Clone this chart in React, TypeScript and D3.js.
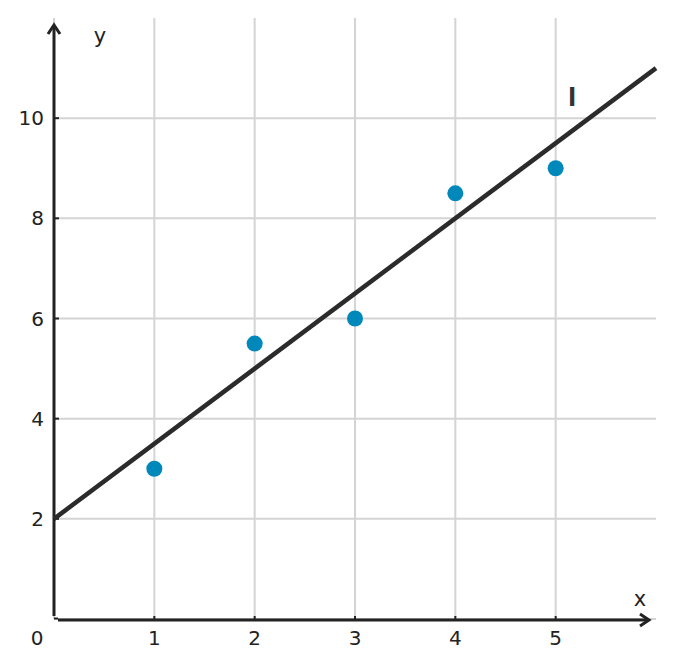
import React from "react";
import * as d3 from "d3";

const pointsX = [1, 2, 3, 4, 5];
const pointsY = [3, 5.5, 6, 8.5, 9];
const lineIntercept = 2;
const lineSlope = 1.5;
const xTicks = [1, 2, 3, 4, 5];
const yTicks = [2, 4, 6, 8, 10];
const xGrid = [0, 1, 2, 3, 4, 5];
const yGrid = [0, 2, 4, 6, 8, 10];
const lineLabel = "l";

const W = 674;
const H = 668;

export default function App() {
  const x = d3.scaleLinear().domain([0, 6]).range([54, 656]);
  const y = d3.scaleLinear().domain([0, 12]).range([619, 18]);
  const font = "'DejaVu Sans', sans-serif";
  const axisColor = "#222";
  const gridColor = "#d4d4d4";
  const textColor = "#222";

  const lineGen = d3
    .line<number>()
    .x((d) => x(d))
    .y((d) => y(lineIntercept + lineSlope * d));

  return (
    <svg
      width={W}
      height={H}
      style={{ position: "absolute", left: 0, top: 0 }}
      viewBox={`0 0 ${W} ${H}`}
    >
      <rect width={W} height={H} fill="#fff" />
      {/* grid */}
      {xGrid.map((v) => (
        <line key={"gx" + v} x1={x(v)} x2={x(v)} y1={y(12)} y2={y(0)} stroke={gridColor} strokeWidth={2} />
      ))}
      {yGrid.map((v) => (
        <line key={"gy" + v} x1={x(0)} x2={x(6)} y1={y(v)} y2={y(v)} stroke={gridColor} strokeWidth={2} />
      ))}
      {/* axes */}
      <line x1={x(0)} x2={x(0)} y1={y(0) - 3} y2={26} stroke={axisColor} strokeWidth={3} />
      <path d={`M${x(0) - 6},${34} L${x(0)},${25} L${x(0) + 6},${34}`} fill="none" stroke={axisColor} strokeWidth={3} />
      <line x1={x(0) + 4} x2={648} y1={y(0) + 1} y2={y(0) + 1} stroke={axisColor} strokeWidth={3} />
      <path d={`M${640},${y(0) + 1 - 6} L${649},${y(0) + 1} L${640},${y(0) + 1 + 6}`} fill="none" stroke={axisColor} strokeWidth={3} />
      {/* origin corner ticks */}
      <line x1={x(0)} x2={x(0) + 4} y1={y(0) - 0.5} y2={y(0) - 0.5} stroke={axisColor} strokeWidth={2} />
      {/* ticks */}
      {xTicks.map((v) => (
        <g key={"xt" + v}>
          <line x1={x(v)} x2={x(v)} y1={y(0)} y2={y(0) - 3} stroke={axisColor} strokeWidth={2} />
          <text x={x(v)} y={y(0) + 19} textAnchor="middle" dominantBaseline="central" fontFamily={font} fontSize={20} fill={textColor}>
            {v}
          </text>
        </g>
      ))}
      {yTicks.map((v) => (
        <g key={"yt" + v}>
          <line x1={x(0)} x2={x(0) + 5} y1={y(v)} y2={y(v)} stroke={axisColor} strokeWidth={2} />
          <text x={x(0) - 10} y={y(v)} textAnchor="end" dominantBaseline="central" fontFamily={font} fontSize={20} fill={textColor}>
            {v}
          </text>
        </g>
      ))}
      <text x={37} y={y(0) + 19} textAnchor="middle" dominantBaseline="central" fontFamily={font} fontSize={20} fill={textColor}>
        0
      </text>
      <text x={100} y={36} textAnchor="middle" dominantBaseline="central" fontFamily={font} fontSize={21} fill={textColor}>
        y
      </text>
      <text x={640} y={599} textAnchor="middle" dominantBaseline="central" fontFamily={font} fontSize={21} fill={textColor}>
        x
      </text>
      {/* regression line */}
      <path d={lineGen([0, 6]) || ""} fill="none" stroke="#2b2b2b" strokeWidth={4.5} />
      <text x={572} y={106} textAnchor="middle" fontFamily={font} fontWeight="bold" fontSize={24} fill="#333">
        {lineLabel}
      </text>
      {/* points */}
      {pointsX.map((px, i) => (
        <circle key={"p" + i} cx={x(px)} cy={y(pointsY[i])} r={8} fill="#0088bb" />
      ))}
    </svg>
  );
}
